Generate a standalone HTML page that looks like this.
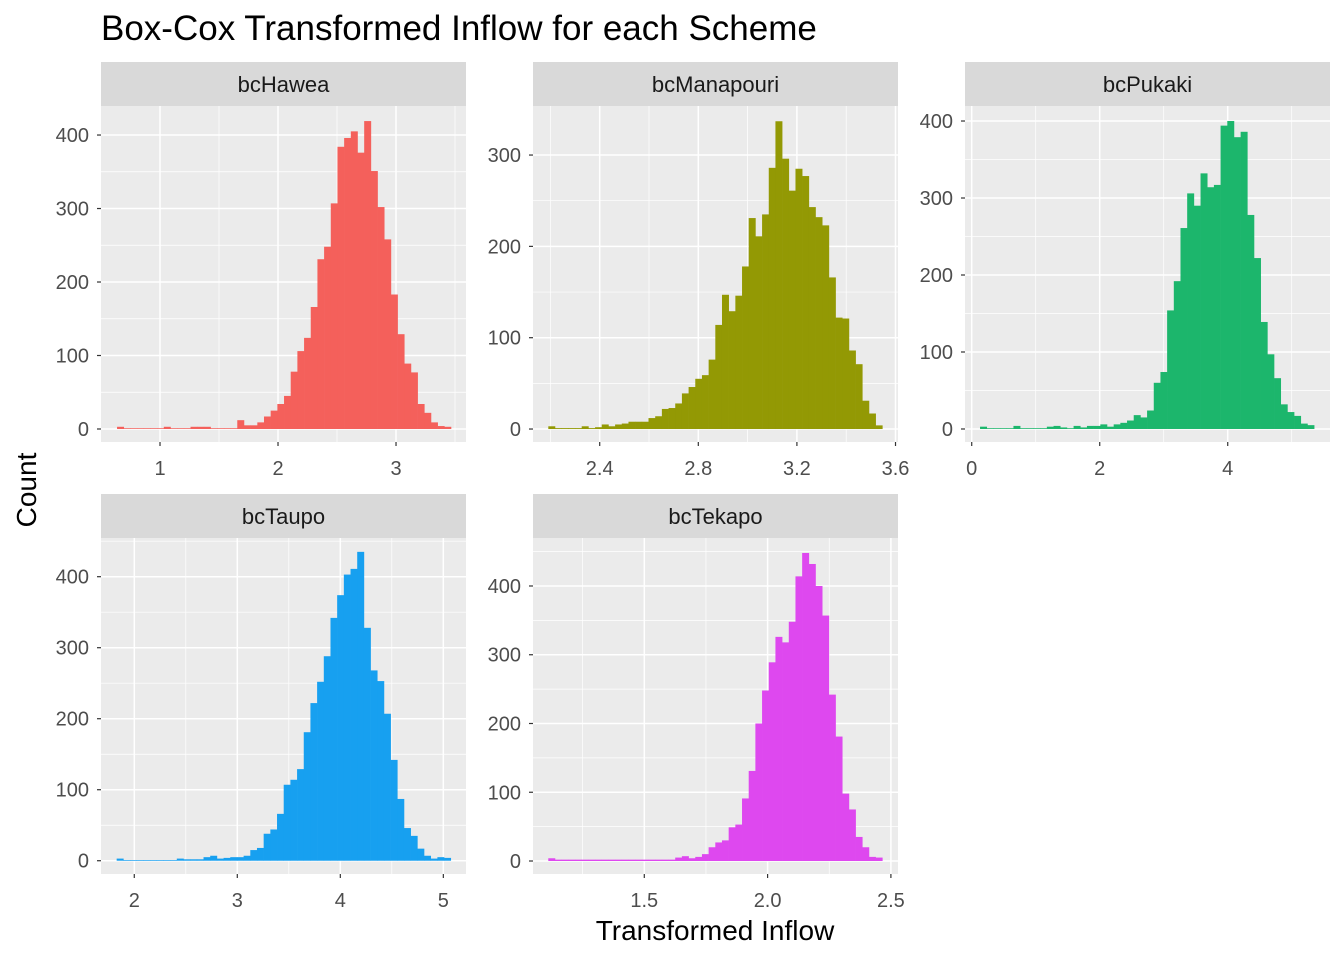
<!DOCTYPE html>
<html><head><meta charset="utf-8"><style>
html,body{margin:0;padding:0;background:#fff;}
svg{display:block;font-family:"Liberation Sans",Arial,sans-serif;}
</style></head><body>
<svg id="chart" width="1344" height="960" viewBox="0 0 1344 960">
<rect width="1344" height="960" fill="#fff"/>
<text x="101" y="40" font-size="35" fill="#000">Box-Cox Transformed Inflow for each Scheme</text>
<text transform="translate(36,490) rotate(-90)" text-anchor="middle" font-size="28" fill="#000">Count</text>
<text x="715" y="940" text-anchor="middle" font-size="28" fill="#000">Transformed Inflow</text>
</svg>
<script>
const hawea = [3,1,1,1,1,1,1,3,1,1,1,3,3,3,1,1,1,1,12,5,5,9,17,25,34,45,78,106,124,166,231,248,307,384,396,405,376,419,351,302,258,183,129,89,77,34,22,9,4,3];
const manapouri = [3,1,1,1,1,3,1,2,5,3,5,6,8,8,8,12,14,22,23,28,39,46,55,59,76,114,147,129,146,178,231,211,235,286,337,296,261,285,277,243,232,223,166,122,121,86,71,31,17,4];
const pukaki = [3,1,1,1,1,4,1,1,1,1,3,4,2,1,4,2,4,4,6,3,6,8,11,18,15,24,60,74,154,192,261,306,290,332,314,317,394,400,379,386,278,222,139,97,66,32,22,17,7,5];
const taupo = [3,1,1,1,1,1,1,1,1,3,2,2,2,5,7,3,4,5,5,7,15,18,38,44,66,107,114,129,181,222,252,288,342,374,403,411,435,328,268,253,207,142,87,46,35,17,7,3,5,4];
const tekapo = [4,2,2,2,2,2,2,2,2,2,2,2,2,2,2,2,2,2,2,5,7,4,6,10,20,27,30,49,53,91,131,200,248,289,326,318,348,414,448,432,400,357,242,181,98,75,35,20,6,5];
const schemes = ["bcHawea","bcManapouri","bcPukaki","bcTaupo","bcTekapo"];
const binStarts = [0.636,2.1915,0.13,1.829,1.1107];
const binWidths = [0.0566,0.0271,0.1044,0.06486,0.02709];
const xTicks = [[1,2,3],[2.4,2.8,3.2,3.6],[0,2,4],[2,3,4,5],[1.5,2.0,2.5]];
const xTickLabels = [["1","2","3"],["2.4","2.8","3.2","3.6"],["0","2","4"],["2","3","4","5"],["1.5","2.0","2.5"]];
const xMinor = [[1.5,2.5,3.5],[2.2,2.6,3.0,3.4],[1,3,5],[2.5,3.5,4.5],[1.25,1.75,2.25]];
const yTicks = [[0,100,200,300,400],[0,100,200,300],[0,100,200,300,400],[0,100,200,300,400],[0,100,200,300,400]];
const yMinor = [[50,150,250,350],[50,150,250],[50,150,250,350],[50,150,250,350,450],[50,150,250,350,450]];
const xDomains = [[0.5,3.593],[2.1294,3.6101],[-0.105,5.598],[1.677,5.220],[1.0487,2.5288]];
const yDomains = [[-17.7,439.5],[-14.2,353.7],[-16.9,419.5],[-18.7,454.5],[-18.9,469.8]];
const counts = [hawea,manapouri,pukaki,taupo,tekapo];
const colors = ["#F4605B","#939904","#1CB66C","#17A0F0","#DE48EF"];
const panelPos = [[101,106],[533,106],[965,106],[101,538],[533,538]];
const PW = 365, PH = 336;
const NS = "http://www.w3.org/2000/svg";
const svg = document.getElementById("chart");
function mk(tag, attrs, parent){const e=document.createElementNS(NS,tag);for(const k in attrs)e.setAttribute(k,attrs[k]);parent.appendChild(e);return e;}
for(let p=0;p<5;p++){
  const [L,T]=panelPos[p];
  const xs=v=>L+(v-xDomains[p][0])/(xDomains[p][1]-xDomains[p][0])*PW;
  const ys=v=>T+PH-(v-yDomains[p][0])/(yDomains[p][1]-yDomains[p][0])*PH;
  const g=mk("g",{},svg);
  
  
  const strip=mk("rect",{x:L,y:T-44,width:PW,height:44,fill:"#d9d9d9"},g);
  
  
  const st=mk("text",{x:L+PW/2,y:T-14,"text-anchor":"middle","font-size":"22",fill:"#1a1a1a"},g);
  st.textContent=schemes[p];
  
  
  const bg=mk("rect",{x:L,y:T,width:PW,height:PH,fill:"#ebebeb"},g);
  
  
  xMinor[p].forEach(v=>{const x=xs(v);if(x>=L&&x<=L+PW)mk("line",{x1:x,x2:x,y1:T,y2:T+PH,stroke:"#fff","stroke-width":0.7},g);});
  yMinor[p].forEach(v=>{const y=ys(v);if(y>=T&&y<=T+PH)mk("line",{x1:L,x2:L+PW,y1:y,y2:y,stroke:"#fff","stroke-width":0.7},g);});
  xTicks[p].forEach((v,i)=>{const x=xs(v);
    mk("line",{x1:x,x2:x,y1:T,y2:T+PH,stroke:"#fff","stroke-width":1.5},g);
    mk("line",{x1:x,x2:x,y1:T+PH,y2:T+PH+4,stroke:"#333","stroke-width":1.2},g);
    const t=mk("text",{x:x,y:T+PH+33,"text-anchor":"middle","font-size":"20",fill:"#4d4d4d"},g);
    t.textContent=xTickLabels[p][i];
    
    
  });
  yTicks[p].forEach(v=>{const y=ys(v);
    mk("line",{x1:L,x2:L+PW,y1:y,y2:y,stroke:"#fff","stroke-width":1.5},g);
    mk("line",{x1:L-4,x2:L,y1:y,y2:y,stroke:"#333","stroke-width":1.2},g);
    const t=mk("text",{x:L-12,y:y+7,"text-anchor":"end","font-size":"20",fill:"#4d4d4d"},g);
    t.textContent=String(v);
    
    
  });
  counts[p].forEach((c,i)=>{
    const x0=xs(binStarts[p]+i*binWidths[p]), x1=xs(binStarts[p]+(i+1)*binWidths[p]);
    const y0=ys(0), y1=ys(c);
    const r=mk("rect",{x:x0,y:y1,width:x1-x0+0.3,height:y0-y1,fill:colors[p]},g);
    
    
  });
}
</script>
</body></html>
